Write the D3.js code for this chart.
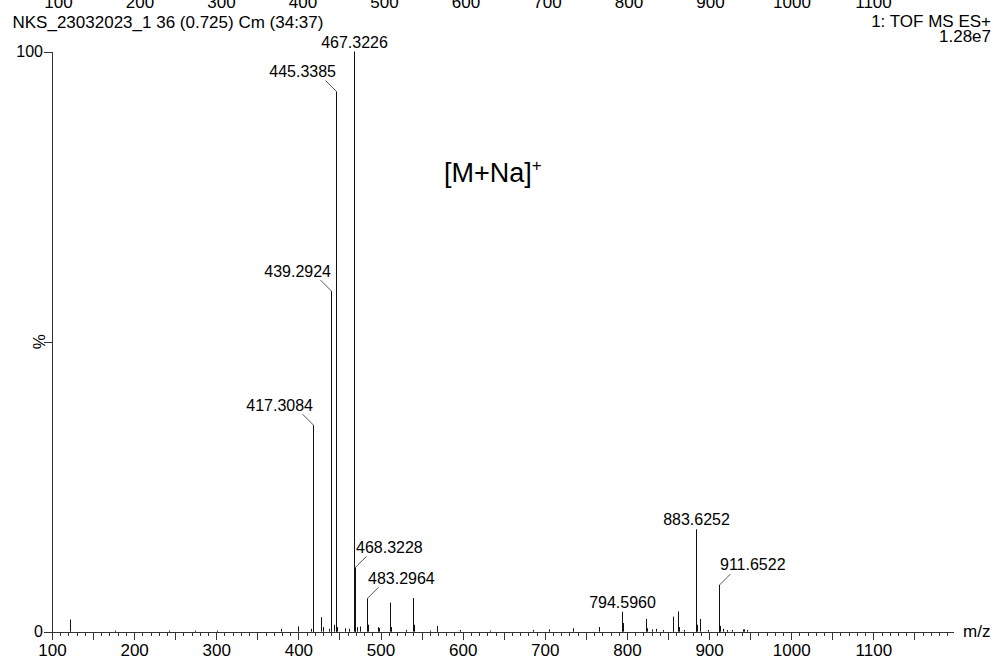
<!DOCTYPE html>
<html>
<head>
<meta charset="utf-8">
<script src="https://cdn.jsdelivr.net/npm/d3@7"></script>
<style>
  html, body { margin: 0; padding: 0; background: #fff; }
  svg { display: block; font-family: "Liberation Sans", Arial, sans-serif; }
</style>
</head>
<body>
<svg id="chart" width="999" height="661"></svg>
<script>
// Spectrum header
const sampleTitle = "NKS_23032023_1 36 (0.725) Cm (34:37)";
const functionTitle = "1: TOF MS ES+";
const basePeakIntensity = "1.28e7";
const ionLabel = "[M+Na]";
const ionCharge = "+";

// Axis tick labels
const xTickLabels = [100, 200, 300, 400, 500, 600, 700, 800, 900, 1000, 1100];
const yTickLabels = [0, 100];
const yAxisTitle = "%";
const xAxisTitle = "m/z";

// Annotated peaks (m/z, relative intensity %)
const labelledMz = [467.3226, 445.3385, 439.2924, 417.3084, 468.3228, 483.2964, 794.5960, 883.6252, 911.6522];
const labelledIntensity = [100, 93.1, 58.7, 35.6, 11.1, 5.75, 3.45, 17.65, 8.05];

// Remaining centroided peaks (m/z, relative intensity %)
const peakMz = [
  121.5, 176.5, 242.0, 274.0, 300.5, 378.8, 399.1, 415.3, 418.31, 427.3, 429.5, 437.6,
  440.30, 443.3, 446.34, 447.3, 456.7, 461.5, 469.3, 471.0, 475.0, 484.30, 497.2,
  498.4, 511.3, 512.3, 530.9, 539.3, 540.3, 560.0, 568.3, 569.3, 596.6, 633.0,
  685.5, 705.0, 733.8, 766.2, 795.6, 823.1, 824.1, 830.0, 836.0, 844.0, 855.6,
  856.6, 862.0, 863.0, 870.0, 884.63, 885.6, 888.8, 898.5, 912.65, 913.7, 917.0,
  922.0, 928.0, 941.0, 943.0, 946.0
];
const peakIntensity = [
  2.1, 0.2, 0.2, 0.2, 0.2, 0.5, 0.9, 0.5, 5.8, 2.5, 0.8, 0.5,
  8.0, 1.2, 8.9, 0.8, 0.6, 0.5, 1.5, 0.8, 0.9, 1.2, 0.8,
  0.6, 5.0, 0.8, 0.3, 5.8, 1.2, 0.2, 1.0, 0.3, 0.3, 0.2,
  0.3, 0.4, 0.6, 0.8, 1.5, 2.2, 0.6, 0.4, 0.5, 0.3, 2.6,
  0.7, 3.5, 0.8, 0.3, 5.5, 1.2, 2.2, 0.3, 4.5, 1.0, 0.5,
  0.3, 0.3, 0.4, 0.4, 0.3
];

// ---- drawing ----
const svg = d3.select("#chart");
const ink = "#111";
const axisInk = "#333";

const x = d3.scaleLinear().domain([100, 1197]).range([52, 953]);
const y = d3.scaleLinear().domain([0, 100]).range([631.7, 51.5]);
// axis of the spectrum panel above, mostly cut off at the top edge
const xTop = d3.scaleLinear().domain([100, 1100]).range([58, 873]);

const snap = v => Math.round(v) + 0.5;

// cut-off axis labels of the previous panel
const topAxis = svg.append("g")
  .attr("transform", "translate(0,8)")
  .call(d3.axisTop(xTop).tickValues(xTickLabels).tickSize(0).tickPadding(0).tickFormat(d3.format("d")));
topAxis.select(".domain").remove();
topAxis.selectAll("text").attr("font-size", 17).attr("font-family", "Liberation Sans, Arial, sans-serif").attr("fill", "#000");

// header texts
svg.append("text").attr("x", 12.5).attr("y", 28).attr("font-size", 17).attr("fill", "#000").text(sampleTitle);
svg.append("text").attr("x", 991).attr("y", 27).attr("font-size", 17).attr("text-anchor", "end").attr("fill", "#000").text(functionTitle);
svg.append("text").attr("x", 991).attr("y", 41.5).attr("font-size", 17).attr("text-anchor", "end").attr("fill", "#000").text(basePeakIntensity);

// ion annotation
const ion = svg.append("text").attr("x", 444).attr("y", 181.5).attr("font-size", 27).attr("fill", "#000");
ion.append("tspan").text(ionLabel);
ion.append("tspan").attr("font-size", 17).attr("dy", -11).text(ionCharge);

// x axis: 10-unit minor ticks, 50-unit medium, 100-unit labelled
const xMinor = svg.append("g").attr("transform", "translate(0,631.7)")
  .call(d3.axisBottom(x).tickValues(d3.range(100, 1191, 10)).tickSize(4).tickSizeOuter(0).tickFormat(""));
const xMid = svg.append("g").attr("transform", "translate(0,631.7)")
  .call(d3.axisBottom(x).tickValues(d3.range(150, 1191, 100)).tickSize(8).tickSizeOuter(0).tickFormat(""));
const xMajor = svg.append("g").attr("transform", "translate(0,631.7)")
  .call(d3.axisBottom(x).tickValues(xTickLabels).tickSize(8).tickSizeOuter(0).tickPadding(4).tickFormat(d3.format("d")));
[xMinor, xMid, xMajor].forEach(g => {
  g.selectAll("line").attr("stroke", axisInk).attr("shape-rendering", "crispEdges");
  g.select(".domain").attr("stroke", axisInk).attr("shape-rendering", "crispEdges");
  g.selectAll("text").attr("font-size", 17).attr("font-family", "Liberation Sans, Arial, sans-serif").attr("fill", "#000");
});

// y axis
const yAxis = svg.append("g").attr("transform", "translate(52,0)")
  .call(d3.axisLeft(y).tickValues([0, 50, 100]).tickSize(8).tickSizeOuter(0).tickPadding(1)
    .tickFormat(d => yTickLabels.includes(d) ? String(d) : ""));
yAxis.selectAll("line").attr("stroke", axisInk).attr("shape-rendering", "crispEdges");
yAxis.select(".domain").attr("stroke", axisInk).attr("shape-rendering", "crispEdges");
yAxis.selectAll("text").attr("font-size", 16).attr("font-family", "Liberation Sans, Arial, sans-serif").attr("fill", "#000");

svg.append("text")
  .attr("transform", `translate(45,${y(50)}) rotate(-90)`)
  .attr("text-anchor", "middle").attr("font-size", 17).attr("fill", "#000")
  .text(yAxisTitle);

svg.append("text").attr("x", 963).attr("y", 636.5).attr("font-size", 17).attr("fill", "#000").text(xAxisTitle);

// peak sticks
const sticks = peakMz.map((m, i) => ({ m, v: peakIntensity[i] }))
  .concat(labelledMz.map((m, i) => ({ m, v: labelledIntensity[i] })));
svg.append("g").selectAll("line").data(sticks).join("line")
  .attr("x1", d => snap(x(d.m))).attr("x2", d => snap(x(d.m)))
  .attr("y1", y(0)).attr("y2", d => y(d.v))
  .attr("stroke", ink).attr("stroke-width", 1);

// peak annotations: centred above, or offset to one side with a leader
const labelSide = { "467.3226": "centre", "445.3385": "left", "439.2924": "left", "417.3084": "left",
                    "468.3228": "right", "483.2964": "right", "794.5960": "centre", "883.6252": "centre", "911.6522": "right" };
const ann = svg.append("g");
labelledMz.forEach((m, i) => {
  const txt = m.toFixed(4);
  const px = snap(x(m));
  const py = y(labelledIntensity[i]);
  const side = labelSide[txt];
  if (side === "centre") {
    ann.append("text").attr("x", px).attr("y", py - 4).attr("text-anchor", "middle")
      .attr("font-size", 16).attr("fill", "#000").text(txt);
  } else {
    const dir = side === "left" ? -1 : 1;
    ann.append("line")
      .attr("x1", px).attr("y1", py)
      .attr("x2", px + dir * 11).attr("y2", py - 11)
      .attr("stroke", "#555").attr("stroke-width", 1);
    ann.append("text").attr("x", px + dir * 0.5).attr("y", py - 14.5)
      .attr("text-anchor", side === "left" ? "end" : "start")
      .attr("font-size", 16).attr("fill", "#000").text(txt);
  }
});
</script>
</body>
</html>
